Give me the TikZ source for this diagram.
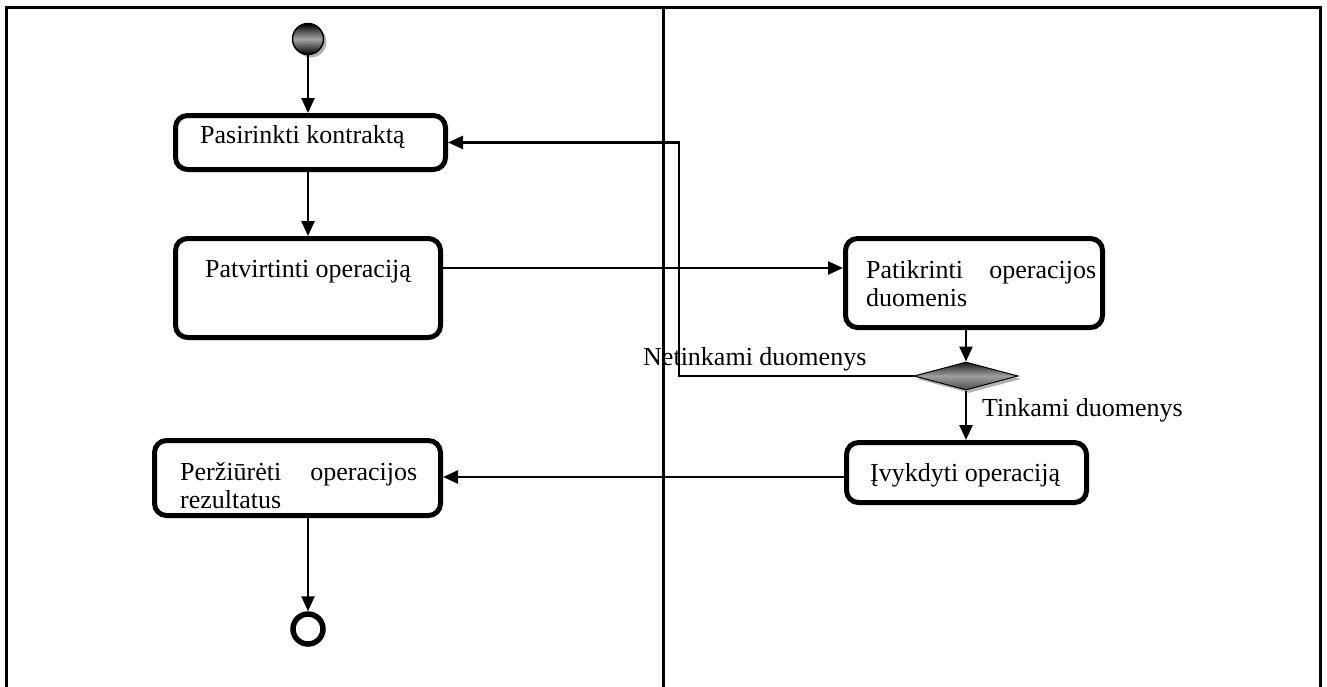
\documentclass[tikz,border=0pt]{standalone}
\usepackage{fontspec}
\setmainfont{Liberation Serif}
\usetikzlibrary{arrows.meta,shapes.geometric,shadows}
\begin{document}
\begin{tikzpicture}[x=1pt,y=-1pt,
  action/.style={draw, line width=5pt, rounded corners=12pt, inner sep=0pt, fill=white},
  flow/.style={line width=2.5pt, -{Triangle[length=15pt,width=13pt]}},
  txt/.style={inner sep=0pt, font=\fontsize{26}{28}\selectfont, anchor=base west},
  ptxt/.style={inner sep=0pt, font=\fontsize{26}{28}\selectfont, anchor=north west, align=left},
  initial/.style={circle, draw, line width=1.5pt, inner sep=0pt, minimum size=31pt,
    top color=black, bottom color=black, middle color=gray!70,
    drop shadow={shadow xshift=3pt, shadow yshift=-3pt, fill=gray!60, opacity=1}},
  final/.style={circle, draw, line width=5.5pt, inner sep=0pt, minimum size=30pt, fill=white},
  decision/.style={diamond, draw, line width=1pt, inner sep=0pt, minimum width=104pt, minimum height=28pt,
    top color=black!90, bottom color=black!70, middle color=gray!75,
    drop shadow={shadow xshift=3pt, shadow yshift=-3pt, fill=gray!60, opacity=1}},
  frame/.style={line width=3pt}
]
\useasboundingbox (0,0) rectangle (1327,686);

% outer frame and swimlane divider
\draw[frame] (6,700) -- (6,7) -- (1320,7) -- (1320,700);
\draw[frame] (663,7) -- (663,700);

% helper coordinates for connector routing
\coordinate (yA) at (0,268);
\coordinate (yB) at (0,477);
\coordinate (xR) at (679,0);

% start and end
\node[initial] (start) at (308,39) {};
\node[final] (end) at (308,629) {};

% actions
\node[action, minimum width=270pt, minimum height=54pt] (b1) at (310.5,142.5) {};
\node[action, minimum width=265pt, minimum height=99pt] (b2) at (308,288) {};
\node[action, minimum width=257pt, minimum height=89pt] (b3) at (974,283) {};
\node[action, minimum width=240pt, minimum height=60pt] (b4) at (966.5,472.5) {};
\node[action, minimum width=286pt, minimum height=75pt] (b5) at (297.5,478) {};

% decision
\node[decision] (d) at (966,376) {};

% texts
\node[txt] (t1) at (200,143) {Pasirinkti kontraktą};
\node[txt] (t2) at (205,277) {Patvirtinti operaciją};
\node[ptxt, text width=230pt] (t3) at (866,260) {Patikrinti\hfill operacijos\\duomenis};
\node[txt] (t4) at (870,481) {Įvykdyti operaciją};
\node[ptxt, text width=237pt] (t5) at (180,462.5) {Peržiūrėti\hfill operacijos\\rezultatus};
\node[txt] (g1) at (643,365) {Netinkami duomenys};
\node[txt] (g2) at (982,416) {Tinkami duomenys};

% connectors
\draw[flow] (start.south) -- (start.south |- b1.north);
\draw[flow] (start.south |- b1.south) -- (start.south |- b2.north);
\draw[flow] (b2.east |- yA) -- (b3.west |- yA);
\draw[flow] (d.north |- b3.south) -- (d.north);
\draw[flow] (d.west) -- (d.west -| xR) |- (b1.east);
\draw[flow] (d.south) -- (d.south |- b4.north);
\draw[flow] (b4.west |- yB) -- (b5.east |- yB);
\draw[flow] (end.north |- b5.south) -- (end.north);
\end{tikzpicture}
\end{document}
